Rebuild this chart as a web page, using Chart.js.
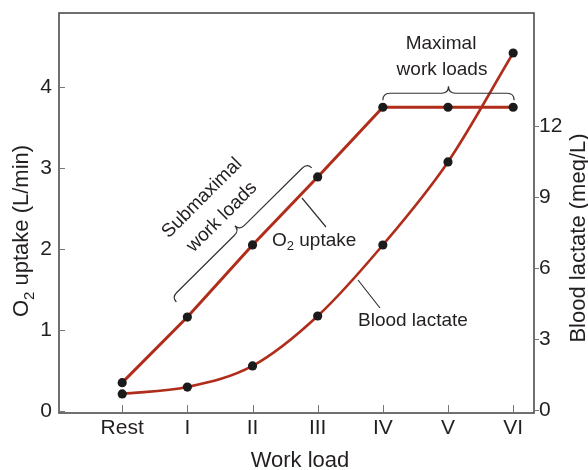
<!DOCTYPE html>
<html>
<head>
<meta charset="utf-8">
<script src="https://cdn.jsdelivr.net/npm/chart.js@4"></script>
<style>
  body { margin: 0; background: #fff; }
  canvas { display: block; }
</style>
</head>
<body>
<canvas id="workChart" width="588" height="470"></canvas>
<script>
// Work load categories and measured values
const workLoads = ['Rest', 'I', 'II', 'III', 'IV', 'V', 'VI'];
const o2Uptake = [0.35, 1.16, 2.05, 2.89, 3.75, 3.75, 3.75];      // L/min
const bloodLactate = [0.68, 0.97, 1.86, 3.97, 6.97, 10.48, 15.08]; // meq/L
const o2Ticks = [0, 1, 2, 3, 4];
const lactateTicks = [0, 3, 6, 9, 12];

const FONT = '"Liberation Sans", Arial, Helvetica, sans-serif';
const TEXT = '#231f20';
const RED = '#b12d1b';
const AXIS = '#4d4d4d';

// draws "O" + subscript "2" + rest, starting at x (left aligned)
function subText(ctx, x, y, before, sub, after, size) {
  ctx.font = size + 'px ' + FONT;
  ctx.fillText(before, x, y);
  x += ctx.measureText(before).width;
  ctx.font = Math.round(size * 0.68) + 'px ' + FONT;
  ctx.fillText(sub, x, y + size * 0.28);
  x += ctx.measureText(sub).width;
  ctx.font = size + 'px ' + FONT;
  ctx.fillText(after, x, y);
}

function subWidth(ctx, before, sub, after, size) {
  ctx.font = size + 'px ' + FONT;
  let w = ctx.measureText(before).width + ctx.measureText(after).width;
  ctx.font = Math.round(size * 0.68) + 'px ' + FONT;
  return w + ctx.measureText(sub).width;
}

// curly brace between two tips, nub on the left side of the direction
function brace(ctx, x1, y1, x2, y2, h, r) {
  const len = Math.hypot(x2 - x1, y2 - y1);
  const m = len / 2;
  ctx.save();
  ctx.translate(x1, y1);
  ctx.rotate(Math.atan2(y2 - y1, x2 - x1));
  ctx.beginPath();
  ctx.moveTo(0, 0);
  ctx.quadraticCurveTo(0, -h, r, -h);
  ctx.lineTo(m - r, -h);
  ctx.quadraticCurveTo(m, -h, m, -2 * h);
  ctx.quadraticCurveTo(m, -h, m + r, -h);
  ctx.lineTo(len - r, -h);
  ctx.quadraticCurveTo(len, -h, len, 0);
  ctx.stroke();
  ctx.restore();
}

// no automatic label padding, the plot box is fixed
function fixBox(s, w, h) {
  if (w) s.width = w;
  if (h) s.height = h;
  s.paddingTop = 0;
  s.paddingBottom = 0;
  s.paddingLeft = 0;
  s.paddingRight = 0;
}

const decorations = {
  id: 'decorations',
  beforeDatasetsDraw(chart) {
    const ctx = chart.ctx;
    const a = chart.chartArea;
    const xs = chart.scales.x, yl = chart.scales.y, yr = chart.scales.y2;
    ctx.save();
    ctx.strokeStyle = AXIS;
    ctx.lineWidth = 1.6;
    ctx.strokeRect(a.left, a.top, a.right - a.left, a.bottom - a.top);

    // tick marks: x and left inward, right outward
    ctx.lineWidth = 1;
    ctx.strokeStyle = '#777';
    ctx.beginPath();
    workLoads.forEach((_, i) => {
      const px = Math.round(xs.getPixelForValue(i)) + 0.5;
      ctx.moveTo(px, a.bottom);
      ctx.lineTo(px, a.bottom - 8);
    });
    o2Ticks.forEach(v => {
      const py = Math.round(yl.getPixelForValue(v)) + 0.5;
      ctx.moveTo(a.left, py);
      ctx.lineTo(a.left + 6, py);
    });
    lactateTicks.forEach(v => {
      const py = Math.round(yr.getPixelForValue(v)) + 0.5;
      ctx.moveTo(a.right, py);
      ctx.lineTo(a.right + 5, py);
    });
    ctx.stroke();
    ctx.restore();
  },
  afterDraw(chart) {
    const ctx = chart.ctx;
    const xs = chart.scales.x, yl = chart.scales.y;
    ctx.save();
    ctx.fillStyle = TEXT;

    // axis titles
    ctx.textBaseline = 'alphabetic';
    ctx.textAlign = 'center';
    ctx.font = '22px ' + FONT;
    ctx.fillText('Work load', 300, 467);

    ctx.textAlign = 'left';
    ctx.save();
    ctx.translate(28, 231);
    ctx.rotate(-Math.PI / 2);
    const lw = subWidth(ctx, 'O', '2', ' uptake (L/min)', 22);
    subText(ctx, -lw / 2, 0, 'O', '2', ' uptake (L/min)', 22);
    ctx.restore();

    ctx.save();
    ctx.translate(585, 238);
    ctx.rotate(-Math.PI / 2);
    ctx.textAlign = 'center';
    ctx.font = '22px ' + FONT;
    ctx.fillText('Blood lactate (meq/L)', 0, 0);
    ctx.restore();

    // annotations
    ctx.font = '19px ' + FONT;
    ctx.textAlign = 'center';
    ctx.textBaseline = 'middle';
    ctx.fillText('Maximal', 441, 44);
    ctx.fillText('work loads', 442, 70);

    ctx.save();
    ctx.translate(202, 198);
    ctx.rotate(-Math.PI / 4);
    ctx.fillText('Submaximal', 0, 0);
    ctx.restore();
    ctx.save();
    ctx.translate(222, 217);
    ctx.rotate(-Math.PI / 4);
    ctx.fillText('work loads', 0, 0);
    ctx.restore();

    ctx.textAlign = 'left';
    subText(ctx, 272, 241, 'O', '2', ' uptake', 19);
    ctx.font = '19px ' + FONT;
    ctx.fillText('Blood lactate', 358, 321);

    // braces and leader lines
    ctx.strokeStyle = '#333';
    ctx.lineWidth = 1.2;
    const p = i => ({ x: xs.getPixelForValue(i), y: yl.getPixelForValue(o2Uptake[i]) });
    const pIV = p(4), pVI = p(6), pI = p(1), pIII = p(3);
    brace(ctx, pIV.x, pIV.y - 7, pVI.x + 1, pVI.y - 7, 7, 7);
    brace(ctx, pI.x - 11, pI.y - 15, pIII.x - 6, pIII.y - 9, 6.5, 7);

    ctx.beginPath();
    ctx.moveTo(302, 198);
    ctx.lineTo(326, 227);
    ctx.moveTo(358, 280);
    ctx.lineTo(380, 308);
    ctx.stroke();
    ctx.restore();
  }
};

const tickFont = { family: FONT, size: 21 };

new Chart(document.getElementById('workChart'), {
  type: 'line',
  data: {
    datasets: [
      {
        label: 'Blood lactate',
        data: bloodLactate.map((v, i) => ({ x: i, y: v })),
        yAxisID: 'y2',
        borderColor: RED,
        borderWidth: 2.6,
        cubicInterpolationMode: 'monotone',
        pointRadius: 4.6,
        pointBackgroundColor: '#1b1b1b',
        pointBorderWidth: 0
      },
      {
        label: 'O2 uptake',
        data: o2Uptake.map((v, i) => ({ x: i, y: v })),
        yAxisID: 'y',
        borderColor: RED,
        borderWidth: 3,
        tension: 0,
        pointRadius: 4.6,
        pointBackgroundColor: '#1b1b1b',
        pointBorderWidth: 0
      }
    ]
  },
  options: {
    responsive: false,
    animation: false,
    layout: { padding: { top: 13, left: 0, right: 0, bottom: 0 } },
    plugins: { legend: { display: false }, tooltip: { enabled: false } },
    scales: {
      x: {
        type: 'linear',
        min: -0.97,
        max: 6.32,
        afterBuildTicks: s => { s.ticks = workLoads.map((_, i) => ({ value: i })); },
        afterFit: s => fixBox(s, 0, 57),
        grid: { display: false, drawTicks: false },
        border: { display: false },
        ticks: {
          callback: v => workLoads[v],
          font: tickFont, color: TEXT, padding: 3,
          maxRotation: 0, autoSkip: false
        }
      },
      y: {
        position: 'left',
        min: -0.025,
        max: 4.914,
        afterBuildTicks: s => { s.ticks = o2Ticks.map(v => ({ value: v })); },
        afterFit: s => fixBox(s, 59, 0),
        grid: { display: false, drawTicks: false },
        border: { display: false },
        ticks: { font: tickFont, color: TEXT, padding: 7 }
      },
      y2: {
        position: 'right',
        min: -0.127,
        max: 16.77,
        afterBuildTicks: s => { s.ticks = lactateTicks.map(v => ({ value: v })); },
        afterFit: s => fixBox(s, 54, 0),
        grid: { display: false, drawTicks: false },
        border: { display: false },
        ticks: { font: tickFont, color: TEXT, padding: 5 }
      }
    }
  },
  plugins: [decorations]
});
</script>
</body>
</html>
